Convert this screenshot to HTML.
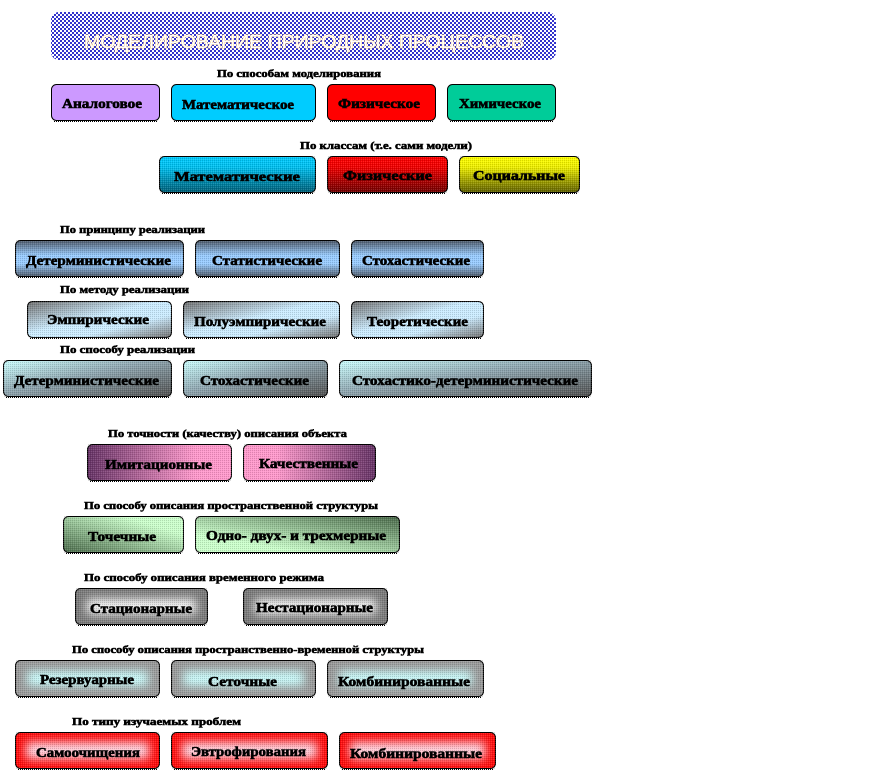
<!DOCTYPE html>
<html lang="ru">
<head>
<meta charset="utf-8">
<title>Моделирование природных процессов</title>
<style>
html,body{margin:0;padding:0;background:#fff;width:879px;height:780px;overflow:hidden}
svg{display:block}
.b{font:bold 14px "Liberation Serif","Noto Serif CJK SC",serif;fill:#000;stroke:#000;stroke-width:.6}
.l{font:bold 11px "Liberation Serif","Noto Serif CJK SC",serif;fill:#000;stroke:#000;stroke-width:.55}
.t{font:18px "Liberation Sans",sans-serif;fill:#fff;stroke:#ffcc66;stroke-width:.7;paint-order:stroke}
rect.x{stroke:#000;stroke-width:1}
rect.o{stroke:#000;stroke-width:1;fill:none}
</style>
</head>
<body>
<svg xmlns="http://www.w3.org/2000/svg" width="879" height="780" viewBox="0 0 879 780">
<defs>
<pattern id="chk" width="4" height="4" patternUnits="userSpaceOnUse">
<rect width="4" height="4" fill="#fff"/>
<rect width="2" height="2" fill="#3333cc"/>
<rect x="2" y="2" width="2" height="2" fill="#3333cc"/>
</pattern>
<pattern id="dith" width="2" height="2" patternUnits="userSpaceOnUse">
<rect width="1" height="1" fill="#000" fill-opacity=".14"/>
<rect x="1" y="1" width="1" height="1" fill="#fff" fill-opacity=".14"/>
</pattern>
<filter id="bl" x="-30%" y="-80%" width="160%" height="260%"><feGaussianBlur stdDeviation="5"/></filter>
<linearGradient id="g2a" x1="0" y1="0" x2="0" y2="1"><stop offset="0" stop-color="#00ccff"/><stop offset=".3" stop-color="#00c0f0"/><stop offset="1" stop-color="#005f78"/></linearGradient>
<linearGradient id="g2b" x1="0" y1="0" x2="0" y2="1"><stop offset="0" stop-color="#ff0000"/><stop offset=".3" stop-color="#f00000"/><stop offset="1" stop-color="#700000"/></linearGradient>
<linearGradient id="g2c" x1="0" y1="0" x2="0" y2="1"><stop offset="0" stop-color="#ffff00"/><stop offset=".3" stop-color="#eeee00"/><stop offset="1" stop-color="#5f5f00"/></linearGradient>
<linearGradient id="g3" x1="0" y1="0" x2="0" y2="1"><stop offset="0" stop-color="#4d5a6a"/><stop offset=".42" stop-color="#99ccff"/><stop offset=".65" stop-color="#99ccff"/><stop offset="1" stop-color="#4d5a6a"/></linearGradient>
<linearGradient id="g4" x1="0" y1="0" x2="1" y2="1"><stop offset="0" stop-color="#707070"/><stop offset=".45" stop-color="#ccecff"/><stop offset=".68" stop-color="#ccecff"/><stop offset="1" stop-color="#707070"/></linearGradient>
<linearGradient id="g5" x1="0" y1="0" x2="1" y2="1"><stop offset="0" stop-color="#ccffff"/><stop offset=".45" stop-color="#8fa6b0"/><stop offset="1" stop-color="#505050"/></linearGradient>
<linearGradient id="g6a" x1="0" y1="0" x2="1" y2="0"><stop offset="0" stop-color="#663366"/><stop offset=".75" stop-color="#ff99cc"/><stop offset="1" stop-color="#ff99cc"/></linearGradient>
<linearGradient id="g6b" x1="0" y1="0" x2="1" y2="0"><stop offset="0" stop-color="#ff99cc"/><stop offset=".25" stop-color="#ff99cc"/><stop offset="1" stop-color="#663366"/></linearGradient>
<linearGradient id="g7a" x1="0" y1="1" x2="1" y2="0"><stop offset="0" stop-color="#4a6a4a"/><stop offset=".75" stop-color="#ccffcc"/><stop offset="1" stop-color="#ccffcc"/></linearGradient>
<linearGradient id="g7b" x1="0" y1="1" x2="1" y2="0"><stop offset="0" stop-color="#ccffcc"/><stop offset=".25" stop-color="#ccffcc"/><stop offset="1" stop-color="#4a6a4a"/></linearGradient>
<clipPath id="allb">
<rect x="159" y="156" width="157" height="37"/><rect x="327" y="156" width="121" height="37"/><rect x="459" y="156" width="121" height="37"/>
<rect x="15" y="240" width="169" height="37"/><rect x="195" y="240" width="145" height="37"/><rect x="351" y="240" width="133" height="37"/>
<rect x="27" y="301" width="145" height="37"/><rect x="183" y="301" width="157" height="37"/><rect x="351" y="301" width="133" height="37"/>
<rect x="3" y="360" width="169" height="37"/><rect x="183" y="360" width="145" height="37"/><rect x="339" y="360" width="253" height="37"/>
<rect x="87" y="444" width="145" height="37"/><rect x="243" y="444" width="133" height="37"/>
<rect x="63" y="516" width="121" height="37"/><rect x="195" y="516" width="205" height="37"/>
<rect x="75" y="588" width="133" height="37"/><rect x="243" y="588" width="145" height="37"/>
<rect x="15" y="660" width="145" height="37"/><rect x="171" y="660" width="145" height="37"/><rect x="327" y="660" width="157" height="37"/>
<rect x="15" y="732" width="145" height="37"/><rect x="171" y="732" width="157" height="37"/><rect x="339" y="732" width="157" height="37"/>
</clipPath>
</defs>

<!-- title -->
<rect x="51" y="12" width="505" height="48" rx="8" fill="url(#chk)"/>
<text class="t" x="84" y="48" textLength="440" lengthAdjust="spacingAndGlyphs">МОДЕЛИРОВАНИЕ ПРИРОДНЫХ ПРОЦЕССОВ</text>

<!-- row 1 -->
<rect class="x" x="51.5" y="84.5" width="108" height="36" rx="5" fill="#cc99ff"/>
<rect class="x" x="171.5" y="84.5" width="144" height="36" rx="5" fill="#00ccff"/>
<rect class="x" x="327.5" y="84.5" width="108" height="36" rx="5" fill="#ff0000"/>
<rect class="x" x="447.5" y="84.5" width="108" height="36" rx="5" fill="#00cc99"/>

<!-- row 2 -->
<rect class="x" x="159.5" y="156.5" width="156" height="36" rx="5" fill="url(#g2a)"/>
<rect class="x" x="327.5" y="156.5" width="120" height="36" rx="5" fill="url(#g2b)"/>
<rect class="x" x="459.5" y="156.5" width="120" height="36" rx="5" fill="url(#g2c)"/>

<!-- row 3 -->
<rect class="x" x="15.5" y="240.5" width="168" height="36" rx="5" fill="url(#g3)"/>
<rect class="x" x="195.5" y="240.5" width="144" height="36" rx="5" fill="url(#g3)"/>
<rect class="x" x="351.5" y="240.5" width="132" height="36" rx="5" fill="url(#g3)"/>

<!-- row 4 -->
<rect class="x" x="27.5" y="301.5" width="144" height="36" rx="5" fill="url(#g4)"/>
<rect class="x" x="183.5" y="301.5" width="156" height="36" rx="5" fill="url(#g4)"/>
<rect class="x" x="351.5" y="301.5" width="132" height="36" rx="5" fill="url(#g4)"/>

<!-- row 5 -->
<rect class="x" x="3.5" y="360.5" width="168" height="36" rx="5" fill="url(#g5)"/>
<rect class="x" x="183.5" y="360.5" width="144" height="36" rx="5" fill="url(#g5)"/>
<rect class="x" x="339.5" y="360.5" width="252" height="36" rx="5" fill="url(#g5)"/>

<!-- row 6 -->
<rect class="x" x="87.5" y="444.5" width="144" height="36" rx="5" fill="url(#g6a)"/>
<rect class="x" x="243.5" y="444.5" width="132" height="36" rx="5" fill="url(#g6b)"/>

<!-- row 7 -->
<rect class="x" x="63.5" y="516.5" width="120" height="36" rx="5" fill="url(#g7a)"/>
<rect class="x" x="195.5" y="516.5" width="204" height="36" rx="5" fill="url(#g7b)"/>

<!-- row 8 -->
<rect x="75.5" y="588.5" width="132" height="36" rx="5" fill="#7a7a7a"/>
<rect x="87" y="599" width="109" height="15" fill="#f8f8f8" filter="url(#bl)"/>
<rect class="o" x="75.5" y="588.5" width="132" height="36" rx="5"/>
<rect x="243.5" y="588.5" width="144" height="36" rx="5" fill="#7a7a7a"/>
<rect x="255" y="599" width="121" height="15" fill="#f8f8f8" filter="url(#bl)"/>
<rect class="o" x="243.5" y="588.5" width="144" height="36" rx="5"/>

<!-- row 9 -->
<rect x="15.5" y="660.5" width="144" height="36" rx="5" fill="#999"/>
<rect x="27" y="671" width="121" height="15" fill="#ccffff" filter="url(#bl)"/>
<rect class="o" x="15.5" y="660.5" width="144" height="36" rx="5"/>
<rect x="171.5" y="660.5" width="144" height="36" rx="5" fill="#999"/>
<rect x="183" y="671" width="121" height="15" fill="#ccffff" filter="url(#bl)"/>
<rect class="o" x="171.5" y="660.5" width="144" height="36" rx="5"/>
<rect x="327.5" y="660.5" width="156" height="36" rx="5" fill="#999"/>
<rect x="339" y="671" width="133" height="15" fill="#ccffff" filter="url(#bl)"/>
<rect class="o" x="327.5" y="660.5" width="156" height="36" rx="5"/>

<!-- row 10 -->
<rect x="15.5" y="732.5" width="144" height="36" rx="5" fill="#ff0a0a"/>
<rect x="26" y="742" width="123" height="17" fill="#ffd8e4" filter="url(#bl)"/>
<rect class="o" x="15.5" y="732.5" width="144" height="36" rx="5"/>
<rect x="171.5" y="732.5" width="156" height="36" rx="5" fill="#ff0a0a"/>
<rect x="182" y="742" width="135" height="17" fill="#ffd8e4" filter="url(#bl)"/>
<rect class="o" x="171.5" y="732.5" width="156" height="36" rx="5"/>
<rect x="339.5" y="732.5" width="156" height="36" rx="5" fill="#ff0a0a"/>
<rect x="350" y="742" width="135" height="17" fill="#ffd8e4" filter="url(#bl)"/>
<rect class="o" x="339.5" y="732.5" width="156" height="36" rx="5"/>

<!-- dither texture over gradient buttons -->
<rect x="0" y="150" width="879" height="630" fill="url(#dith)" clip-path="url(#allb)"/>

<!-- dotted lower edges -->
<path fill="none" stroke="#000" stroke-dasharray="1 1" d="M54 121.5h103M174 121.5h139M330 121.5h103M450 121.5h103M162 193.5h151M330 193.5h115M462 193.5h115M18 277.5h163M198 277.5h139M354 277.5h127M30 338.5h139M186 338.5h151M354 338.5h127M6 397.5h163M186 397.5h139M342 397.5h247M90 481.5h139M246 481.5h127M66 553.5h115M198 553.5h199M78 625.5h127M246 625.5h139M18 697.5h139M174 697.5h139M330 697.5h151M18 769.5h139M174 769.5h151M342 769.5h151"/>

<!-- labels -->
<text class="l" x="217" y="77" textLength="164" lengthAdjust="spacingAndGlyphs">По способам моделирования</text>
<text class="l" x="300" y="149" textLength="172" lengthAdjust="spacingAndGlyphs">По классам (т.е. сами модели)</text>
<text class="l" x="60" y="233" textLength="145" lengthAdjust="spacingAndGlyphs">По принципу реализации</text>
<text class="l" x="60" y="293" textLength="129" lengthAdjust="spacingAndGlyphs">По методу реализации</text>
<text class="l" x="60" y="353" textLength="135" lengthAdjust="spacingAndGlyphs">По способу реализации</text>
<text class="l" x="108" y="437" textLength="239" lengthAdjust="spacingAndGlyphs">По точности (качеству) описания объекта</text>
<text class="l" x="84" y="509" textLength="294" lengthAdjust="spacingAndGlyphs">По способу описания пространственной структуры</text>
<text class="l" x="84" y="581" textLength="240" lengthAdjust="spacingAndGlyphs">По способу описания временного режима</text>
<text class="l" x="72" y="653" textLength="352" lengthAdjust="spacingAndGlyphs">По способу описания пространственно-временной структуры</text>
<text class="l" x="72" y="725" textLength="169" lengthAdjust="spacingAndGlyphs">По типу изучаемых проблем</text>

<!-- button text -->
<text class="b" x="62" y="108" textLength="80" lengthAdjust="spacingAndGlyphs">Аналоговое</text>
<text class="b" x="182" y="109" textLength="112" lengthAdjust="spacingAndGlyphs">Математическое</text>
<text class="b" x="338" y="108" textLength="82" lengthAdjust="spacingAndGlyphs">Физическое</text>
<text class="b" x="459" y="108" textLength="82" lengthAdjust="spacingAndGlyphs">Химическое</text>
<text class="b" x="174" y="181" textLength="126" lengthAdjust="spacingAndGlyphs">Математические</text>
<text class="b" x="343" y="180" textLength="89" lengthAdjust="spacingAndGlyphs">Физические</text>
<text class="b" x="473" y="180" textLength="92" lengthAdjust="spacingAndGlyphs">Социальные</text>
<text class="b" x="26" y="265" textLength="145" lengthAdjust="spacingAndGlyphs">Детерминистические</text>
<text class="b" x="212" y="265" textLength="110" lengthAdjust="spacingAndGlyphs">Статистические</text>
<text class="b" x="362" y="265" textLength="108" lengthAdjust="spacingAndGlyphs">Стохастические</text>
<text class="b" x="47" y="324" textLength="102" lengthAdjust="spacingAndGlyphs">Эмпирические</text>
<text class="b" x="194" y="326" textLength="132" lengthAdjust="spacingAndGlyphs">Полуэмпирические</text>
<text class="b" x="367" y="326" textLength="101" lengthAdjust="spacingAndGlyphs">Теоретические</text>
<text class="b" x="14" y="385" textLength="145" lengthAdjust="spacingAndGlyphs">Детерминистические</text>
<text class="b" x="200" y="385" textLength="109" lengthAdjust="spacingAndGlyphs">Стохастические</text>
<text class="b" x="352" y="385" textLength="226" lengthAdjust="spacingAndGlyphs">Стохастико-детерминистические</text>
<text class="b" x="105" y="469" textLength="107" lengthAdjust="spacingAndGlyphs">Имитационные</text>
<text class="b" x="259" y="468" textLength="99" lengthAdjust="spacingAndGlyphs">Качественные</text>
<text class="b" x="88" y="541" textLength="68" lengthAdjust="spacingAndGlyphs">Точечные</text>
<text class="b" x="206" y="540" textLength="180" lengthAdjust="spacingAndGlyphs">Одно- двух- и трехмерные</text>
<text class="b" x="90" y="613" textLength="102" lengthAdjust="spacingAndGlyphs">Стационарные</text>
<text class="b" x="256" y="612" textLength="117" lengthAdjust="spacingAndGlyphs">Нестационарные</text>
<text class="b" x="40" y="684" textLength="94" lengthAdjust="spacingAndGlyphs">Резервуарные</text>
<text class="b" x="208" y="686" textLength="69" lengthAdjust="spacingAndGlyphs">Сеточные</text>
<text class="b" x="338" y="686" textLength="132" lengthAdjust="spacingAndGlyphs">Комбинированные</text>
<text class="b" x="36" y="757" textLength="104" lengthAdjust="spacingAndGlyphs">Самоочищения</text>
<text class="b" x="191" y="756" textLength="115" lengthAdjust="spacingAndGlyphs">Эвтрофирования</text>
<text class="b" x="350" y="758" textLength="132" lengthAdjust="spacingAndGlyphs">Комбинированные</text>
</svg>
</body>
</html>
